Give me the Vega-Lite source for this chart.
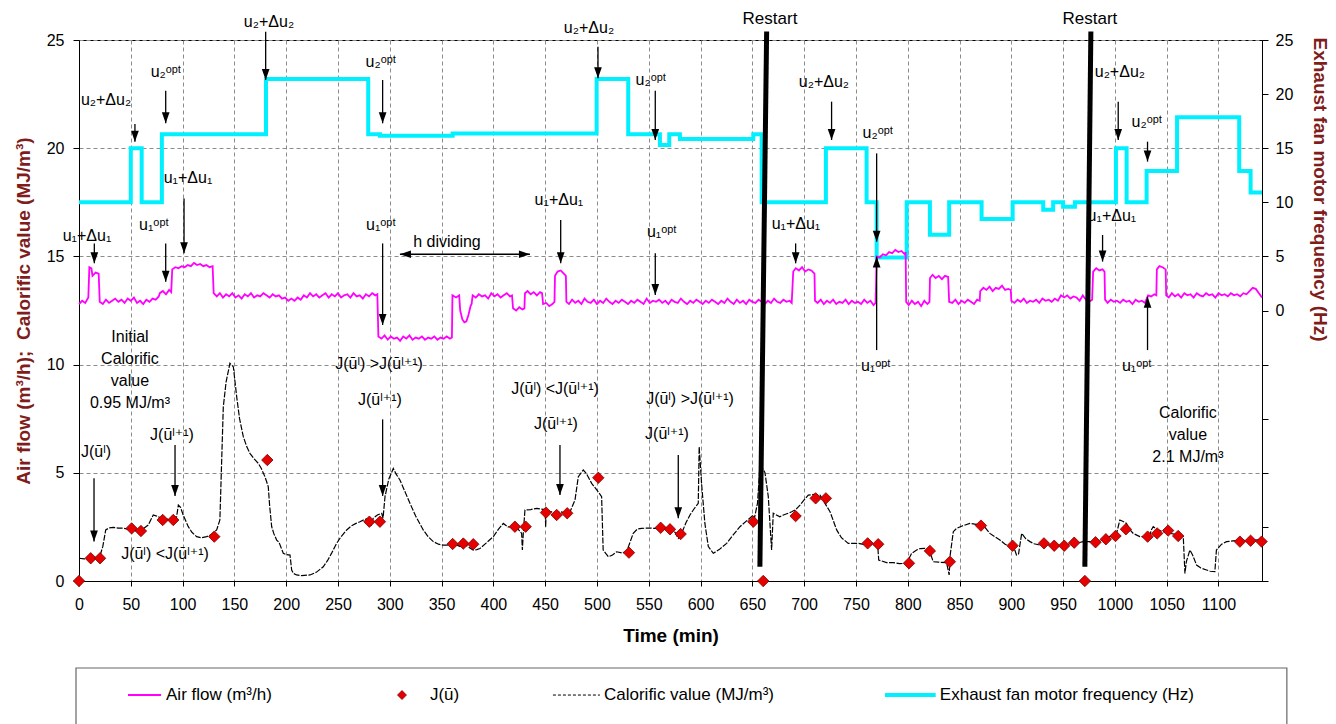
{
"$schema":"https://vega.github.io/schema/vega-lite/v6.json",
"width":1183,"height":541,
"autosize":{"type":"none"},
"padding":{"left":79,"top":40,"right":74,"bottom":143},
"background":"white",
"config":{
 "font":"Liberation Sans, Arial, DejaVu Sans, sans-serif",
 "view":{"stroke":"#000","strokeWidth":1},
 "axis":{"labelFontSize":16,"labelColor":"#000","tickColor":"#000","domainColor":"#000","gridColor":"#8c8c8c","gridDash":[4,3],"gridWidth":1,"titleFontSize":19,"titleFontWeight":"bold","titleColor":"#000","labelFlush":false,"labelOverlap":false}
},
"datasets":{
"fan":[{"t":0,"h":10},{"t":50,"h":15},{"t":60.5,"h":10},{"t":80,"h":16.3},{"t":180.5,"h":21.4},{"t":279.2,"h":16.3},{"t":290.5,"h":16.15},{"t":360.7,"h":16.35},{"t":499.7,"h":21.4},{"t":530.2,"h":16.3},{"t":560.8,"h":15.3},{"t":569.8,"h":16.3},{"t":580.1,"h":15.85},{"t":650.9,"h":16.3},{"t":659,"h":10},{"t":721,"h":15},{"t":760.3,"h":10},{"t":770,"h":4.9},{"t":799,"h":10},{"t":821.4,"h":7.0},{"t":840,"h":10},{"t":871.3,"h":8.45},{"t":901.3,"h":10},{"t":930.8,"h":9.3},{"t":940.4,"h":10},{"t":950,"h":9.6},{"t":961.4,"h":10},{"t":1001,"h":15},{"t":1011.3,"h":10},{"t":1030.6,"h":12.9},{"t":1060,"h":17.85},{"t":1120,"h":12.9},{"t":1131,"h":10.9},{"t":1142,"h":10.9}],
"air":[{"t":0,"v":12.8},{"t":3,"v":12.95},{"t":6,"v":12.85},{"t":9,"v":13.1},{"t":10,"v":14.5},{"t":12,"v":14.45},{"t":13,"v":14.1},{"t":16,"v":14.25},{"t":19,"v":14.2},{"t":20,"v":12.9},{"t":23,"v":12.8},{"t":26,"v":13.0},{"t":29,"v":12.85},{"t":32,"v":12.95},{"t":35,"v":13.05},{"t":38,"v":12.9},{"t":41,"v":13.0},{"t":44,"v":12.85},{"t":47,"v":13.05},{"t":50,"v":12.95},{"t":53,"v":13.1},{"t":56,"v":12.85},{"t":59,"v":12.95},{"t":62,"v":12.8},{"t":65,"v":13.0},{"t":68,"v":12.9},{"t":71,"v":13.05},{"t":74,"v":13.0},{"t":77,"v":13.15},{"t":78,"v":13.3},{"t":81,"v":13.4},{"t":84,"v":13.25},{"t":87,"v":13.45},{"t":89,"v":13.35},{"t":90,"v":14.4},{"t":93,"v":14.5},{"t":96,"v":14.45},{"t":99,"v":14.55},{"t":102,"v":14.5},{"t":105,"v":14.6},{"t":108,"v":14.55},{"t":111,"v":14.7},{"t":114,"v":14.6},{"t":117,"v":14.65},{"t":120,"v":14.55},{"t":123,"v":14.6},{"t":126,"v":14.5},{"t":129,"v":14.55},{"t":130,"v":13.3},{"t":133,"v":13.15},{"t":136,"v":13.3},{"t":139,"v":13.1},{"t":142,"v":13.25},{"t":145,"v":13.15},{"t":148,"v":13.3},{"t":151,"v":13.1},{"t":154,"v":13.2},{"t":157,"v":13.05},{"t":160,"v":13.25},{"t":163,"v":13.15},{"t":166,"v":13.3},{"t":169,"v":13.1},{"t":172,"v":13.2},{"t":175,"v":13.15},{"t":178,"v":13.3},{"t":181,"v":13.2},{"t":184,"v":13.1},{"t":187,"v":13.25},{"t":190,"v":13.15},{"t":193,"v":13.2},{"t":196,"v":13.05},{"t":199,"v":13.1},{"t":202,"v":12.95},{"t":205,"v":13.05},{"t":208,"v":12.95},{"t":211,"v":13.1},{"t":214,"v":13.0},{"t":217,"v":13.2},{"t":220,"v":13.1},{"t":223,"v":13.3},{"t":226,"v":13.15},{"t":229,"v":13.25},{"t":232,"v":13.1},{"t":235,"v":13.2},{"t":238,"v":13.3},{"t":241,"v":13.1},{"t":244,"v":13.25},{"t":247,"v":13.15},{"t":250,"v":13.3},{"t":253,"v":13.1},{"t":256,"v":13.2},{"t":259,"v":13.25},{"t":262,"v":13.1},{"t":265,"v":13.3},{"t":268,"v":13.15},{"t":271,"v":13.2},{"t":274,"v":13.05},{"t":277,"v":13.25},{"t":280,"v":13.15},{"t":283,"v":13.3},{"t":286,"v":13.2},{"t":288,"v":13.25},{"t":289,"v":11.3},{"t":292,"v":11.2},{"t":295,"v":11.35},{"t":298,"v":11.15},{"t":301,"v":11.3},{"t":304,"v":11.2},{"t":307,"v":11.25},{"t":310,"v":11.1},{"t":313,"v":11.3},{"t":316,"v":11.2},{"t":319,"v":11.35},{"t":322,"v":11.15},{"t":325,"v":11.25},{"t":328,"v":11.2},{"t":331,"v":11.3},{"t":334,"v":11.15},{"t":337,"v":11.25},{"t":340,"v":11.2},{"t":343,"v":11.3},{"t":346,"v":11.15},{"t":349,"v":11.25},{"t":352,"v":11.2},{"t":355,"v":11.3},{"t":358,"v":11.2},{"t":360,"v":11.25},{"t":360.5,"v":13.2},{"t":364,"v":13.1},{"t":367,"v":13.2},{"t":368,"v":12.5},{"t":370,"v":12.1},{"t":372,"v":11.95},{"t":374,"v":12.0},{"t":376,"v":12.3},{"t":378,"v":12.7},{"t":379,"v":12.8},{"t":380,"v":13.2},{"t":383,"v":13.1},{"t":386,"v":13.25},{"t":389,"v":13.15},{"t":392,"v":13.2},{"t":395,"v":13.05},{"t":398,"v":13.3},{"t":401,"v":13.15},{"t":404,"v":13.25},{"t":407,"v":13.1},{"t":410,"v":13.2},{"t":413,"v":13.3},{"t":416,"v":13.15},{"t":418,"v":13.2},{"t":419,"v":12.6},{"t":422,"v":12.5},{"t":425,"v":12.65},{"t":428,"v":12.55},{"t":430,"v":12.6},{"t":430.5,"v":13.3},{"t":433,"v":13.4},{"t":436,"v":13.25},{"t":439,"v":13.35},{"t":442,"v":13.2},{"t":445,"v":13.35},{"t":447,"v":13.3},{"t":448,"v":12.8},{"t":451,"v":12.85},{"t":454,"v":12.7},{"t":457,"v":12.8},{"t":459,"v":12.9},{"t":459.5,"v":14.1},{"t":462,"v":14.3},{"t":465,"v":14.35},{"t":468,"v":14.2},{"t":470,"v":14.1},{"t":470.5,"v":12.9},{"t":473,"v":12.8},{"t":476,"v":13.0},{"t":479,"v":12.85},{"t":482,"v":12.95},{"t":485,"v":12.8},{"t":488,"v":13.05},{"t":491,"v":12.9},{"t":494,"v":12.85},{"t":497,"v":13.0},{"t":500,"v":12.8},{"t":503,"v":12.95},{"t":506,"v":12.85},{"t":509,"v":13.05},{"t":512,"v":12.9},{"t":515,"v":12.8},{"t":518,"v":12.95},{"t":521,"v":12.85},{"t":524,"v":13.0},{"t":527,"v":12.9},{"t":530,"v":12.8},{"t":533,"v":12.95},{"t":536,"v":12.85},{"t":539,"v":13.0},{"t":542,"v":12.9},{"t":545,"v":12.8},{"t":548,"v":13.05},{"t":551,"v":12.85},{"t":554,"v":12.95},{"t":557,"v":12.9},{"t":560,"v":13.0},{"t":563,"v":12.85},{"t":566,"v":12.95},{"t":569,"v":12.8},{"t":572,"v":13.0},{"t":575,"v":12.9},{"t":578,"v":12.85},{"t":581,"v":13.05},{"t":584,"v":12.9},{"t":587,"v":12.8},{"t":590,"v":12.95},{"t":593,"v":12.85},{"t":596,"v":13.0},{"t":599,"v":12.9},{"t":602,"v":12.8},{"t":605,"v":12.95},{"t":608,"v":12.85},{"t":611,"v":13.0},{"t":614,"v":12.9},{"t":617,"v":12.8},{"t":620,"v":12.95},{"t":623,"v":12.85},{"t":626,"v":13.05},{"t":629,"v":12.9},{"t":632,"v":12.8},{"t":635,"v":13.0},{"t":638,"v":12.85},{"t":641,"v":12.95},{"t":644,"v":12.8},{"t":647,"v":13.0},{"t":650,"v":12.9},{"t":653,"v":12.85},{"t":656,"v":13.0},{"t":659,"v":12.9},{"t":662,"v":12.8},{"t":665,"v":12.95},{"t":668,"v":12.85},{"t":671,"v":13.05},{"t":674,"v":12.9},{"t":677,"v":12.85},{"t":680,"v":13.0},{"t":683,"v":12.9},{"t":686,"v":12.95},{"t":688,"v":12.85},{"t":689.5,"v":14.3},{"t":692,"v":14.45},{"t":695,"v":14.35},{"t":698,"v":14.5},{"t":701,"v":14.3},{"t":704,"v":14.4},{"t":707,"v":14.35},{"t":710,"v":14.2},{"t":710.5,"v":12.95},{"t":713,"v":12.85},{"t":716,"v":13.0},{"t":719,"v":12.8},{"t":722,"v":12.95},{"t":725,"v":12.85},{"t":728,"v":13.0},{"t":731,"v":12.8},{"t":734,"v":12.9},{"t":737,"v":12.85},{"t":740,"v":13.0},{"t":743,"v":12.8},{"t":746,"v":12.95},{"t":749,"v":12.85},{"t":752,"v":12.9},{"t":755,"v":12.8},{"t":758,"v":13.0},{"t":761,"v":12.85},{"t":764,"v":12.95},{"t":767,"v":12.75},{"t":769,"v":12.85},{"t":770,"v":15.0},{"t":773,"v":14.95},{"t":776,"v":15.1},{"t":779,"v":15.05},{"t":782,"v":15.2},{"t":785,"v":15.15},{"t":788,"v":15.3},{"t":791,"v":15.2},{"t":794,"v":15.25},{"t":797,"v":15.1},{"t":798,"v":15.2},{"t":798.5,"v":12.9},{"t":801,"v":12.75},{"t":804,"v":12.95},{"t":807,"v":12.8},{"t":810,"v":12.9},{"t":813,"v":12.7},{"t":816,"v":12.95},{"t":819,"v":12.8},{"t":821,"v":12.9},{"t":821.5,"v":14.0},{"t":824,"v":14.15},{"t":827,"v":14.0},{"t":830,"v":14.1},{"t":833,"v":13.95},{"t":836,"v":14.1},{"t":839,"v":14.05},{"t":840,"v":12.9},{"t":843,"v":12.85},{"t":846,"v":13.0},{"t":849,"v":12.8},{"t":852,"v":12.95},{"t":855,"v":12.85},{"t":858,"v":13.0},{"t":861,"v":12.9},{"t":864,"v":12.8},{"t":867,"v":13.0},{"t":869.5,"v":12.95},{"t":870,"v":13.4},{"t":873,"v":13.55},{"t":876,"v":13.45},{"t":879,"v":13.6},{"t":882,"v":13.4},{"t":885,"v":13.55},{"t":888,"v":13.5},{"t":891,"v":13.65},{"t":894,"v":13.45},{"t":897,"v":13.5},{"t":899.5,"v":13.45},{"t":900,"v":12.95},{"t":903,"v":12.85},{"t":906,"v":13.0},{"t":909,"v":12.9},{"t":912,"v":13.05},{"t":915,"v":12.85},{"t":918,"v":12.95},{"t":921,"v":12.9},{"t":924,"v":13.0},{"t":927,"v":12.85},{"t":930,"v":13.05},{"t":933,"v":12.95},{"t":936,"v":13.0},{"t":939,"v":12.9},{"t":942,"v":13.05},{"t":945,"v":12.95},{"t":948,"v":13.2},{"t":951,"v":13.1},{"t":954,"v":13.2},{"t":957,"v":13.05},{"t":960,"v":13.15},{"t":963,"v":13.1},{"t":966,"v":12.95},{"t":969,"v":13.2},{"t":972,"v":13.0},{"t":975,"v":12.9},{"t":978,"v":13.0},{"t":979,"v":14.3},{"t":982,"v":14.45},{"t":985,"v":14.35},{"t":988,"v":14.4},{"t":990,"v":14.3},{"t":990.5,"v":13.0},{"t":993,"v":12.85},{"t":996,"v":13.0},{"t":999,"v":12.9},{"t":1002,"v":12.95},{"t":1005,"v":12.85},{"t":1008,"v":13.0},{"t":1011,"v":12.9},{"t":1014,"v":12.95},{"t":1017,"v":12.8},{"t":1020,"v":13.0},{"t":1023,"v":12.9},{"t":1026,"v":12.95},{"t":1029,"v":12.85},{"t":1032,"v":13.2},{"t":1035,"v":13.15},{"t":1038,"v":13.25},{"t":1040,"v":13.2},{"t":1040.5,"v":14.4},{"t":1043,"v":14.55},{"t":1046,"v":14.5},{"t":1049,"v":14.4},{"t":1049.5,"v":13.2},{"t":1052,"v":13.1},{"t":1055,"v":13.3},{"t":1058,"v":13.15},{"t":1061,"v":13.25},{"t":1064,"v":13.1},{"t":1067,"v":13.3},{"t":1070,"v":13.2},{"t":1073,"v":13.25},{"t":1076,"v":13.1},{"t":1079,"v":13.3},{"t":1082,"v":13.2},{"t":1085,"v":13.15},{"t":1088,"v":13.3},{"t":1091,"v":13.2},{"t":1094,"v":13.25},{"t":1097,"v":13.1},{"t":1100,"v":13.3},{"t":1103,"v":13.2},{"t":1106,"v":13.25},{"t":1109,"v":13.15},{"t":1112,"v":13.3},{"t":1115,"v":13.2},{"t":1118,"v":13.25},{"t":1121,"v":13.15},{"t":1124,"v":13.3},{"t":1127,"v":13.25},{"t":1130,"v":13.4},{"t":1133,"v":13.55},{"t":1136,"v":13.5},{"t":1139,"v":13.3},{"t":1142,"v":13.1}],
"cal":[{"t":0,"v":1.05},{"t":5,"v":1.02},{"t":11,"v":1.05},{"t":15,"v":1.08},{"t":20,"v":1.12},{"t":23,"v":1.6},{"t":25.8,"v":2.36},{"t":29,"v":2.45},{"t":33,"v":2.48},{"t":38,"v":2.44},{"t":42.8,"v":2.44},{"t":47,"v":2.4},{"t":50.8,"v":2.44},{"t":54,"v":2.35},{"t":57.3,"v":2.23},{"t":60,"v":2.3},{"t":63,"v":2.45},{"t":66.9,"v":2.59},{"t":69,"v":2.8},{"t":71.7,"v":3.05},{"t":75,"v":3.0},{"t":78.2,"v":2.93},{"t":82,"v":2.88},{"t":86,"v":2.85},{"t":91,"v":2.82},{"t":94,"v":2.9},{"t":95.9,"v":3.51},{"t":98,"v":3.4},{"t":101,"v":3.0},{"t":105.5,"v":2.51},{"t":109,"v":2.25},{"t":113.6,"v":2.05},{"t":118,"v":2.0},{"t":123.3,"v":2.05},{"t":128,"v":2.15},{"t":132.9,"v":2.36},{"t":136,"v":2.82},{"t":139.3,"v":8.05},{"t":142,"v":9.2},{"t":145.7,"v":10.06},{"t":149,"v":9.9},{"t":152.2,"v":8.52},{"t":155,"v":7.5},{"t":158.6,"v":6.67},{"t":162,"v":6.2},{"t":165,"v":5.9},{"t":169,"v":5.65},{"t":173,"v":5.44},{"t":176,"v":5.2},{"t":179.5,"v":4.82},{"t":182.7,"v":4.36},{"t":184,"v":3.5},{"t":186,"v":2.51},{"t":188,"v":2.2},{"t":190.8,"v":1.89},{"t":193,"v":1.8},{"t":197.2,"v":1.28},{"t":200,"v":1.22},{"t":203.7,"v":1.2},{"t":205.3,"v":0.51},{"t":207,"v":0.35},{"t":210,"v":0.28},{"t":215,"v":0.25},{"t":223,"v":0.28},{"t":229,"v":0.4},{"t":235.8,"v":0.66},{"t":240,"v":0.95},{"t":244,"v":1.3},{"t":248.7,"v":1.74},{"t":253,"v":2.05},{"t":258.4,"v":2.36},{"t":263,"v":2.55},{"t":267,"v":2.65},{"t":271.2,"v":2.74},{"t":276,"v":2.85},{"t":280.9,"v":2.9},{"t":282,"v":2.55},{"t":284,"v":2.9},{"t":288,"v":3.05},{"t":292.2,"v":3.13},{"t":293.5,"v":2.9},{"t":295.4,"v":3.9},{"t":299,"v":4.7},{"t":303.4,"v":5.2},{"t":306,"v":4.95},{"t":309.8,"v":4.67},{"t":314,"v":4.2},{"t":319.5,"v":3.59},{"t":325,"v":3.0},{"t":332.3,"v":2.36},{"t":337,"v":2.05},{"t":342,"v":1.82},{"t":347,"v":1.7},{"t":351.6,"v":1.66},{"t":356,"v":1.66},{"t":360.7,"v":1.71},{"t":364,"v":1.68},{"t":367.8,"v":1.59},{"t":371,"v":1.74},{"t":375,"v":1.6},{"t":380.6,"v":1.43},{"t":384,"v":1.45},{"t":387,"v":1.5},{"t":393,"v":1.75},{"t":400,"v":2.05},{"t":405,"v":2.4},{"t":409.6,"v":2.66},{"t":414,"v":2.5},{"t":419.2,"v":2.51},{"t":423,"v":2.45},{"t":427.3,"v":2.2},{"t":428,"v":1.43},{"t":429,"v":2.3},{"t":430.5,"v":3.28},{"t":436,"v":3.3},{"t":441.8,"v":3.36},{"t":446,"v":3.32},{"t":450,"v":3.3},{"t":450.5,"v":2.5},{"t":451,"v":3.25},{"t":456,"v":3.2},{"t":461,"v":3.15},{"t":465,"v":3.2},{"t":470.7,"v":3.13},{"t":474,"v":3.2},{"t":478.8,"v":3.74},{"t":482,"v":4.82},{"t":486.8,"v":5.13},{"t":490,"v":4.95},{"t":494.9,"v":4.51},{"t":500,"v":4.2},{"t":504.5,"v":3.9},{"t":506,"v":1.43},{"t":511,"v":1.12},{"t":515,"v":1.2},{"t":519,"v":1.35},{"t":524,"v":1.3},{"t":528.6,"v":1.35},{"t":532,"v":1.8},{"t":535,"v":2.2},{"t":539,"v":2.4},{"t":543.1,"v":2.43},{"t":550,"v":2.45},{"t":556,"v":2.43},{"t":560.8,"v":2.43},{"t":567,"v":2.45},{"t":573.6,"v":2.36},{"t":576,"v":2.2},{"t":578.5,"v":1.97},{"t":581.7,"v":2.2},{"t":586,"v":2.7},{"t":589.8,"v":3.05},{"t":594,"v":3.35},{"t":597.8,"v":3.59},{"t":598.7,"v":6.2},{"t":601,"v":4.5},{"t":604.2,"v":2.66},{"t":607.5,"v":1.59},{"t":612.3,"v":1.28},{"t":618,"v":1.45},{"t":625.2,"v":1.74},{"t":631,"v":2.1},{"t":638,"v":2.51},{"t":645,"v":2.8},{"t":650.9,"v":3.05},{"t":652,"v":2.9},{"t":655,"v":3.6},{"t":657.3,"v":5.28},{"t":660,"v":5.2},{"t":662.2,"v":5.0},{"t":665.4,"v":3.9},{"t":668.6,"v":1.43},{"t":670.2,"v":3.13},{"t":676.6,"v":2.97},{"t":680,"v":3.05},{"t":684.7,"v":3.13},{"t":688,"v":3.2},{"t":692,"v":3.3},{"t":696,"v":3.51},{"t":700,"v":3.75},{"t":704,"v":3.97},{"t":710,"v":4.0},{"t":715.3,"v":3.97},{"t":720,"v":3.6},{"t":725,"v":3.2},{"t":731.4,"v":2.36},{"t":736,"v":2.0},{"t":742.6,"v":1.74},{"t":752.2,"v":1.74},{"t":760.3,"v":1.66},{"t":766,"v":1.68},{"t":771,"v":1.66},{"t":772,"v":0.97},{"t":779.6,"v":0.85},{"t":786,"v":0.85},{"t":792,"v":0.8},{"t":798.9,"v":0.82},{"t":803.8,"v":1.28},{"t":808.6,"v":1.43},{"t":812,"v":1.5},{"t":816.6,"v":1.51},{"t":821.4,"v":1.35},{"t":824.6,"v":0.89},{"t":830,"v":0.87},{"t":837.5,"v":0.85},{"t":840,"v":0.28},{"t":841,"v":1.2},{"t":844,"v":2.28},{"t":847.2,"v":2.43},{"t":853,"v":2.55},{"t":860,"v":2.66},{"t":866,"v":2.62},{"t":871.3,"v":2.66},{"t":875,"v":2.45},{"t":879.3,"v":2.2},{"t":884,"v":2.05},{"t":889,"v":1.89},{"t":894,"v":1.7},{"t":898.6,"v":1.59},{"t":903.4,"v":1.43},{"t":905,"v":1.2},{"t":907,"v":1.25},{"t":910,"v":2.2},{"t":914,"v":1.95},{"t":918,"v":1.82},{"t":922,"v":1.72},{"t":927.6,"v":1.66},{"t":935,"v":1.66},{"t":942,"v":1.63},{"t":950,"v":1.66},{"t":956,"v":1.7},{"t":962,"v":1.74},{"t":969.4,"v":1.82},{"t":975,"v":1.82},{"t":979,"v":1.82},{"t":987,"v":1.9},{"t":995.2,"v":2.05},{"t":1001.6,"v":2.2},{"t":1004.8,"v":2.82},{"t":1008,"v":2.75},{"t":1011,"v":2.67},{"t":1014,"v":2.4},{"t":1017.7,"v":2.2},{"t":1024,"v":2.05},{"t":1030,"v":2.05},{"t":1033.6,"v":2.05},{"t":1035,"v":2.35},{"t":1037,"v":2.51},{"t":1040,"v":2.4},{"t":1045,"v":2.3},{"t":1053,"v":2.2},{"t":1060,"v":2.15},{"t":1066,"v":2.05},{"t":1067.6,"v":0.35},{"t":1069,"v":0.9},{"t":1072.4,"v":1.43},{"t":1075,"v":1.2},{"t":1078.8,"v":0.74},{"t":1083,"v":0.6},{"t":1088.5,"v":0.51},{"t":1092,"v":0.45},{"t":1096.5,"v":0.43},{"t":1098,"v":1.43},{"t":1103,"v":1.7},{"t":1107.7,"v":1.82},{"t":1114,"v":1.85},{"t":1120.6,"v":1.87},{"t":1130,"v":1.88},{"t":1142,"v":1.9}],
"J":[{"t":0,"v":0},{"t":11.3,"v":1.05},{"t":20.3,"v":1.05},{"t":50.8,"v":2.43},{"t":59.8,"v":2.31},{"t":80.8,"v":2.82},{"t":91,"v":2.82},{"t":130.6,"v":2.05},{"t":181.8,"v":5.59},{"t":280.3,"v":2.74},{"t":290.5,"v":2.74},{"t":360.7,"v":1.71},{"t":371,"v":1.73},{"t":380.6,"v":1.7},{"t":420.8,"v":2.51},{"t":431.2,"v":2.51},{"t":450.8,"v":3.16},{"t":461.1,"v":3.05},{"t":471.3,"v":3.13},{"t":501.3,"v":4.77},{"t":530.9,"v":1.31},{"t":561.5,"v":2.46},{"t":570.5,"v":2.39},{"t":580.8,"v":2.17},{"t":650.9,"v":2.74},{"t":660.5,"v":0},{"t":691.8,"v":3.0},{"t":711.1,"v":3.82},{"t":721,"v":3.82},{"t":761.3,"v":1.74},{"t":771.5,"v":1.7},{"t":801.2,"v":0.82},{"t":821.4,"v":1.39},{"t":840.7,"v":0.89},{"t":870.7,"v":2.56},{"t":901.2,"v":1.63},{"t":931.5,"v":1.74},{"t":941.4,"v":1.63},{"t":951.1,"v":1.63},{"t":960.7,"v":1.77},{"t":971,"v":0},{"t":981.3,"v":1.79},{"t":991.3,"v":1.93},{"t":1000.6,"v":2.08},{"t":1010.6,"v":2.39},{"t":1031.6,"v":2.05},{"t":1040.8,"v":2.2},{"t":1051.4,"v":2.33},{"t":1061.1,"v":2.08},{"t":1120.7,"v":1.82},{"t":1131,"v":1.86},{"t":1141.6,"v":1.82}],
"restart":[{"t":663.8,"v":25.39,"t2":657.3,"v2":0.66},{"t":976.8,"v":25.39,"t2":971,"v2":0.66}],
"arrows":[{"t":54,"v":21.12,"v2":20.3,"dir":"down"},{"t":83.7,"v":22.66,"v2":21.15,"dir":"down"},{"t":180.2,"v":25.38,"v2":23.15,"dir":"down"},{"t":293.1,"v":23.15,"v2":21.15,"dir":"down"},{"t":14.8,"v":15.6,"v2":14.68,"dir":"down"},{"t":83.7,"v":15.6,"v2":13.83,"dir":"down"},{"t":101.4,"v":17.68,"v2":15.14,"dir":"down"},{"t":293.1,"v":15.6,"v2":11.83,"dir":"down"},{"t":501,"v":24.69,"v2":23.23,"dir":"down"},{"t":556.3,"v":22.66,"v2":20.38,"dir":"down"},{"t":726.5,"v":22.15,"v2":20.38,"dir":"down"},{"t":770,"v":19.76,"v2":15.68,"dir":"down"},{"t":465,"v":16.68,"v2":14.68,"dir":"down"},{"t":556.3,"v":15.14,"v2":13.22,"dir":"down"},{"t":691.8,"v":15.6,"v2":14.68,"dir":"down"},{"t":770,"v":10.67,"v2":14.99,"dir":"up"},{"t":1003.2,"v":22.15,"v2":20.38,"dir":"down"},{"t":1031.5,"v":20.3,"v2":19.38,"dir":"down"},{"t":988.1,"v":15.99,"v2":14.76,"dir":"down"},{"t":1031.5,"v":10.67,"v2":13.14,"dir":"up"},{"t":14.5,"v":4.75,"v2":1.82,"dir":"down"},{"t":92.7,"v":6.28,"v2":3.93,"dir":"down"},{"t":293.1,"v":7.47,"v2":3.93,"dir":"down"},{"t":464.3,"v":6.28,"v2":3.97,"dir":"down"},{"t":578.5,"v":5.82,"v2":2.9,"dir":"down"}],
"harrow":[{"t":309.8,"t2":435.3,"v":15.1}],
"hheads":[{"t":309.8,"v":15.1,"dir":"left"},{"t":435.3,"v":15.1,"dir":"right"}],
"labels":[{"t":26.1,"v":22.23,"s":"u₂+Δu₂"},{"t":84,"v":23.52,"s":"u₂ᵒᵖᵗ"},{"t":183.4,"v":25.83,"s":"u₂+Δu₂"},{"t":291.5,"v":23.98,"s":"u₂ᵒᵖᵗ"},{"t":7.7,"v":15.94,"s":"u₁+Δu₁"},{"t":72.4,"v":16.45,"s":"u₁ᵒᵖᵗ"},{"t":105.2,"v":18.62,"s":"u₁+Δu₁"},{"t":291.5,"v":16.45,"s":"u₁ᵒᵖᵗ"},{"t":355.2,"v":15.67,"s":"h dividing"},{"t":492.3,"v":25.55,"s":"u₂+Δu₂"},{"t":552.1,"v":23.15,"s":"u₂ᵒᵖᵗ"},{"t":719.1,"v":23.06,"s":"u₂+Δu₂"},{"t":771.2,"v":20.7,"s":"u₂ᵒᵖᵗ"},{"t":463.3,"v":17.61,"s":"u₁+Δu₁"},{"t":562.7,"v":16.13,"s":"u₁ᵒᵖᵗ"},{"t":692.1,"v":16.5,"s":"u₁+Δu₁"},{"t":769.3,"v":9.94,"s":"u₁ᵒᵖᵗ"},{"t":1004.8,"v":23.52,"s":"u₂+Δu₂"},{"t":1030.9,"v":21.21,"s":"u₂ᵒᵖᵗ"},{"t":997.1,"v":16.87,"s":"u₁+Δu₁"},{"t":1021.2,"v":9.94,"s":"u₁ᵒᵖᵗ"},{"t":16.4,"v":5.96,"s":"J(ūˡ)"},{"t":89.8,"v":6.75,"s":"J(ūˡ⁺¹)"},{"t":83,"v":1.25,"s":"J(ūˡ) <J(ūˡ⁺¹)"},{"t":289.6,"v":10.03,"s":"J(ūˡ) >J(ūˡ⁺¹)"},{"t":290.5,"v":8.36,"s":"J(ūˡ⁺¹)"},{"t":459.5,"v":8.87,"s":"J(ūˡ) <J(ūˡ⁺¹)"},{"t":460.4,"v":7.26,"s":"J(ūˡ⁺¹)"},{"t":589.8,"v":8.41,"s":"J(ūˡ) >J(ūˡ⁺¹)"},{"t":567.6,"v":6.79,"s":"J(ūˡ⁺¹)"}],
"notes":[{"t":49.2,"v":11.28,"s":"Initial\nCalorific\nvalue\n0.95 MJ/m³"},{"t":1070.5,"v":7.76,"s":"Calorific\nvalue\n2.1 MJ/m³"}],
"rlabels":[{"t":667,"v":25.97,"s":"Restart"},{"t":975.9,"v":25.97,"s":"Restart"}],
"lbox":[{"t":-2.9,"t2":1166,"v":-4.02,"v2":-9}],
"legend":[{"k":"air","t":47.3,"t2":79.2,"tt":84,"v":-5.27,"s":"Air flow (m³/h)"},{"k":"j","t":311.8,"t2":311.8,"tt":338.8,"v":-5.27,"s":"J(ū)"},{"k":"cal","t":457.5,"t2":502.9,"tt":506.8,"v":-5.27,"s":"Calorific value (MJ/m³)"},{"k":"fan","t":778,"t2":827,"tt":831,"v":-5.27,"s":"Exhaust fan motor frequency (Hz)"}]
},
"resolve":{"scale":{"y":"independent"}},
"layer":[
 {"data":{"name":"fan"},
  "mark":{"type":"line","interpolate":"step-after","color":"#00f0ff","strokeWidth":4},
  "encoding":{
   "x":{"field":"t","type":"quantitative"},
   "y":{"field":"h","type":"quantitative","scale":{"domain":[-25,25],"nice":false,"zero":false},
        "axis":{"orient":"right","values":[-25,-20,-15,-10,-5,0,5,10,15,20,25],"labelExpr":"datum.value >= 0 ? datum.label : ''","grid":false,"tickSize":6,"labelPadding":7,"title":"Exhaust fan motor frequency (Hz)","titleColor":"#7f1d1d","titleAngle":90,"titleAlign":"center","titleBaseline":"middle","titleX":57,"titleY":149}}
  }},
 {"layer":[
  {"data":{"name":"lbox"},"mark":{"type":"rect","fill":"white","stroke":"#666","strokeWidth":1.2},
   "encoding":{"x":{"field":"t","type":"quantitative"},"x2":{"field":"t2"},"y":{"field":"v","type":"quantitative"},"y2":{"field":"v2"}}},
  {"data":{"name":"cal"},
   "mark":{"type":"line","color":"#000","strokeWidth":1.2,"strokeDash":[6,1.5]},
   "encoding":{
    "x":{"field":"t","type":"quantitative","scale":{"domain":[0,1142],"nice":false,"zero":false},
         "axis":{"values":[0,50,100,150,200,250,300,350,400,450,500,550,600,650,700,750,800,850,900,950,1000,1050,1100],"format":"d","title":"Time (min)","grid":true,"tickSize":5,"labelPadding":10,"titlePadding":14}},
    "y":{"field":"v","type":"quantitative","scale":{"domain":[0,25],"nice":false,"zero":false},
         "axis":{"orient":"left","values":[0,5,10,15,20,25],"grid":true,"tickSize":6,"labelPadding":9,"title":"Air flow (m³/h); \u00a0Calorific value (MJ/m³)","titleColor":"#7f1d1d","titleAngle":270,"titleAlign":"center","titleBaseline":"middle","titleX":-56}}
   }},
  {"data":{"name":"air"},
   "mark":{"type":"line","color":"#ff00ff","strokeWidth":1.8},
   "encoding":{"x":{"field":"t","type":"quantitative"},"y":{"field":"v","type":"quantitative"}}},
  {"data":{"name":"J"},
   "mark":{"type":"point","shape":"diamond","filled":true,"fill":"#e60000","stroke":"#7a0000","strokeWidth":0.8,"size":130,"opacity":1},
   "encoding":{"x":{"field":"t","type":"quantitative"},"y":{"field":"v","type":"quantitative"}}},
  {"data":{"name":"restart"},
   "mark":{"type":"rule","color":"#000","strokeWidth":5},
   "encoding":{"x":{"field":"t","type":"quantitative"},"x2":{"field":"t2"},"y":{"field":"v","type":"quantitative"},"y2":{"field":"v2"}}},
  {"data":{"name":"arrows"},
   "mark":{"type":"rule","color":"#000","strokeWidth":1.3},
   "encoding":{"x":{"field":"t","type":"quantitative"},"y":{"field":"v","type":"quantitative"},"y2":{"field":"v2"}}},
  {"data":{"name":"arrows"},
   "mark":{"type":"point","filled":true,"color":"#000","size":121,"opacity":1,"strokeWidth":0},
   "encoding":{"x":{"field":"t","type":"quantitative"},"y":{"field":"v2","type":"quantitative"},
     "shape":{"field":"dir","type":"nominal","legend":null,"scale":{"domain":["down","up","left","right"],"range":["M-0.7,-2L0.7,-2L0,0Z","M-0.7,2L0.7,2L0,0Z","M2,-0.7L2,0.7L0,0Z","M-2,-0.7L-2,0.7L0,0Z"]}}}},
  {"data":{"name":"harrow"},
   "mark":{"type":"rule","color":"#000","strokeWidth":1.3},
   "encoding":{"x":{"field":"t","type":"quantitative"},"x2":{"field":"t2"},"y":{"field":"v","type":"quantitative"}}},
  {"data":{"name":"hheads"},
   "mark":{"type":"point","filled":true,"color":"#000","size":121,"opacity":1,"strokeWidth":0},
   "encoding":{"x":{"field":"t","type":"quantitative"},"y":{"field":"v","type":"quantitative"},
     "shape":{"field":"dir","type":"nominal","legend":null}}},
  {"data":{"name":"labels"},
   "mark":{"type":"text","fontSize":16,"color":"#000","align":"center","baseline":"middle"},
   "encoding":{"x":{"field":"t","type":"quantitative"},"y":{"field":"v","type":"quantitative"},"text":{"field":"s"}}},
  {"data":{"name":"notes"},
   "mark":{"type":"text","fontSize":16,"color":"#000","align":"center","baseline":"middle","lineBreak":"\n","lineHeight":22},
   "encoding":{"x":{"field":"t","type":"quantitative"},"y":{"field":"v","type":"quantitative"},"text":{"field":"s"}}},
  {"data":{"name":"rlabels"},
   "mark":{"type":"text","fontSize":17,"color":"#000","align":"center","baseline":"middle"},
   "encoding":{"x":{"field":"t","type":"quantitative"},"y":{"field":"v","type":"quantitative"},"text":{"field":"s"}}},
  {"data":{"name":"legend"},"transform":[{"filter":"datum.k === 'air'"}],
   "mark":{"type":"rule","color":"#ff00ff","strokeWidth":2},
   "encoding":{"x":{"field":"t","type":"quantitative"},"x2":{"field":"t2"},"y":{"field":"v","type":"quantitative"}}},
  {"data":{"name":"legend"},"transform":[{"filter":"datum.k === 'cal'"}],
   "mark":{"type":"rule","color":"#000","strokeWidth":1,"strokeDash":[3,2]},
   "encoding":{"x":{"field":"t","type":"quantitative"},"x2":{"field":"t2"},"y":{"field":"v","type":"quantitative"}}},
  {"data":{"name":"legend"},"transform":[{"filter":"datum.k === 'fan'"}],
   "mark":{"type":"rule","color":"#00f0ff","strokeWidth":4},
   "encoding":{"x":{"field":"t","type":"quantitative"},"x2":{"field":"t2"},"y":{"field":"v","type":"quantitative"}}},
  {"data":{"name":"legend"},"transform":[{"filter":"datum.k === 'j'"}],
   "mark":{"type":"point","shape":"diamond","filled":true,"fill":"#e60000","stroke":"#7a0000","strokeWidth":0.8,"size":80,"opacity":1},
   "encoding":{"x":{"field":"t","type":"quantitative"},"y":{"field":"v","type":"quantitative"}}},
  {"data":{"name":"legend"},
   "mark":{"type":"text","fontSize":17,"color":"#000","align":"left","baseline":"middle"},
   "encoding":{"x":{"field":"tt","type":"quantitative"},"y":{"field":"v","type":"quantitative"},"text":{"field":"s"}}}
 ]}
]
}
